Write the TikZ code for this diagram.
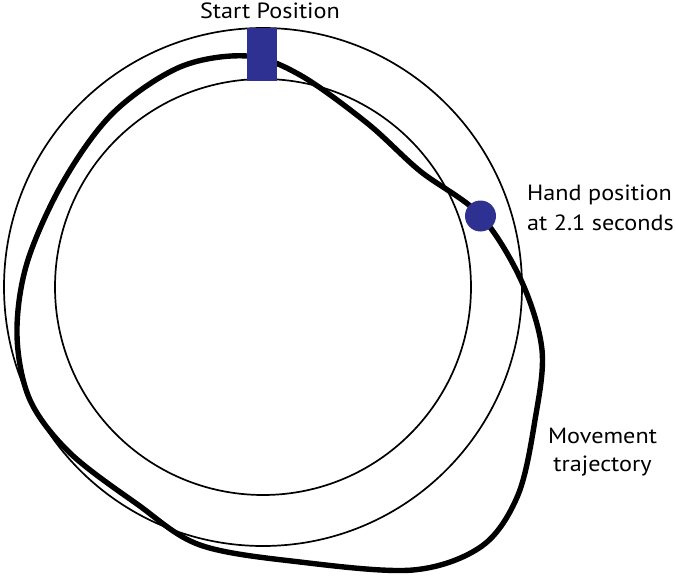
\documentclass[tikz,border=0pt]{standalone}
\usepackage{fontspec}
\setmainfont[FakeStretch=1.1]{PT Sans}
\definecolor{markblue}{RGB}{46,49,146}
\begin{document}
\begin{tikzpicture}[x=1pt,y=-1pt,
  ring/.style={draw=black,line width=1.7pt},
  traj/.style={draw=black,line width=5.4pt,line join=round},
  lbl/.style={inner sep=0pt,font=\fontsize{22}{30}\selectfont},
  marker/.style={fill=markblue,draw=none}]
\useasboundingbox (0,0) rectangle (675,578);
\fill[white] (0,0) rectangle (675,578);
% rings
\draw[ring] (263,287) circle[radius=259pt];
\draw[ring] (263,287) circle[radius=208pt];
% movement trajectory
\draw[traj] plot[smooth cycle,tension=0.55] coordinates {
 (247,56) (180,67) (113,113) (63,182) (27,263) (17,335) (30,400)
 (70,453) (137,504) (200,545) (300,562) (413,570) (482,546) (518,495)
 (535,420) (542,350) (521,280) (480,215) (420,171) (367,123) (300,75)};
% markers
\node[marker,minimum width=30pt,minimum height=53pt,inner sep=0pt,anchor=north west] (start) at (247,28) {};
\node[marker,circle,minimum size=31pt,inner sep=0pt] (hand) at (480.5,216) {};
% labels
\node[lbl,anchor=north] (startlbl) at (270,3) {Start Position};
\node[lbl,anchor=north west,align=left] (handlbl) at (527,185) {Hand position\\at 2.1 seconds};
\node[lbl,anchor=north,align=center,font=\fontsize{22}{28}\selectfont] (movlbl) at (602.5,428) {Movement\\trajectory};
\end{tikzpicture}
\end{document}
